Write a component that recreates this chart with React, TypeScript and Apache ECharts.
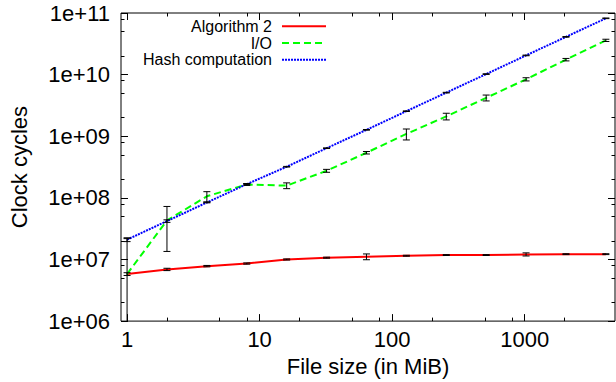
import React, { useEffect, useRef } from "react";
import * as echarts from "echarts";

const fileSizes = [1, 2, 4, 8, 16, 32, 64, 128, 256, 512, 1024, 2048, 4096];
const algoValues = [5.8e6, 6.9e6, 7.8e6, 8.6e6, 1.0e7, 1.07e7, 1.11e7, 1.15e7, 1.18e7, 1.18e7, 1.21e7, 1.22e7, 1.22e7];
const algoErrors = [3e5, 3e5, 2e5, 2e5, 2e5, 2e5, 1.2e6, 2e5, 2e5, 2e5, 7e5, 2e5, 2e5];
const ioValues = [5.8e6, 4.3e7, 1.06e8, 1.65e8, 1.58e8, 2.75e8, 5.4e8, 1.09e9, 2.1e9, 4.2e9, 8.4e9, 1.75e10, 3.6e10];
const ioErrors = [1.6e7, 2.95e7, 2e7, 6e6, 1.7e7, 1.5e7, 2.5e7, 2.2e8, 2.6e8, 4.6e8, 5e8, 8e8, 1.5e9];
const hashValues = [2.1e7, 4.2e7, 8.4e7, 1.67e8, 3.2e8, 6.4e8, 1.27e9, 2.55e9, 5.1e9, 1.02e10, 2.05e10, 4.1e10, 8.2e10];
const hashErrors = [1.5e6, 2e6, 1e6, 3e6, 4e6, 8e6, 1.5e7, 3e7, 6e7, 1.2e8, 2.5e8, 5e8, 1e9];

const seriesNames = ["Algorithm 2", "I/O", "Hash computation"];
const xMajorTicks = [1, 10, 100, 1000];
const xMinorTicks = [2, 5, 8, 20, 50, 80, 200, 500, 800, 2000];
const yMajorTicks = [1e6, 1e7, 1e8, 1e9, 1e10, 1e11];
const yMinorTicks = [2e6, 5e6, 8e6, 2e7, 5e7, 8e7, 2e8, 5e8, 8e8, 2e9, 5e9, 8e9, 2e10, 5e10, 8e10];

const X_MIN = 0.9;
const X_MAX = 4800;
const Y_MIN = 1e6;
const Y_MAX = 1e11;
const FONT = "Liberation Sans";

function xAxisDef(position: string, ticks: number[], len: number, label: boolean, name?: string) {
  return {
    type: "log",
    logBase: 10,
    min: X_MIN,
    max: X_MAX,
    position,
    name: name || "",
    nameLocation: "middle",
    nameGap: 32,
    nameTextStyle: { fontFamily: FONT, fontSize: 22, color: "#000" },
    axisLine: { show: false },
    axisTick: { show: true, inside: true, length: len, customValues: ticks, lineStyle: { color: "#000", width: 1 } },
    axisLabel: {
      show: label,
      customValues: ticks,
      margin: 7,
      fontFamily: FONT,
      fontSize: 22,
      color: "#000",
      formatter: (v: number) => String(Math.round(v)),
    },
    splitLine: { show: false },
    minorTick: { show: false },
  };
}

function yAxisDef(position: string, ticks: number[], len: number, label: boolean, name?: string) {
  return {
    type: "log",
    logBase: 10,
    min: Y_MIN,
    max: Y_MAX,
    position,
    name: name || "",
    nameLocation: "middle",
    nameGap: 91,
    nameTextStyle: { fontFamily: FONT, fontSize: 22, color: "#000" },
    axisLine: { show: false },
    axisTick: { show: true, inside: true, length: len, customValues: ticks, lineStyle: { color: "#000", width: 1 } },
    axisLabel: {
      show: label,
      customValues: ticks,
      margin: 11,
      fontFamily: FONT,
      fontSize: 22,
      color: "#000",
      formatter: (v: number) => "1e+" + String(Math.round(Math.log10(v))).padStart(2, "0"),
    },
    splitLine: { show: false },
    minorTick: { show: false },
  };
}

function errorSeries(values: number[], errors: number[]) {
  return {
    type: "custom",
    xAxisIndex: 0,
    yAxisIndex: 0,
    silent: true,
    z: 5,
    clip: true,
    encode: { x: 0, y: [1, 2] },
    data: fileSizes.map((x, i) => {
      const low = values[i] - errors[i];
      return [x, low > Y_MIN ? low : Y_MIN, values[i] + errors[i], low > Y_MIN ? 1 : 0];
    }),
    renderItem: (_params: any, api: any) => {
      const x = api.value(0);
      const lo = api.coord([x, api.value(1)]);
      const hi = api.coord([x, api.value(2)]);
      const hasLowCap = api.value(3) === 1;
      const hw = 3.5;
      const style = { stroke: "#000", lineWidth: 1 };
      const children: any[] = [
        { type: "line", shape: { x1: lo[0], y1: lo[1], x2: hi[0], y2: hi[1] }, style },
        { type: "line", shape: { x1: hi[0] - hw, y1: hi[1], x2: hi[0] + hw, y2: hi[1] }, style },
      ];
      if (hasLowCap) {
        children.push({ type: "line", shape: { x1: lo[0] - hw, y1: lo[1], x2: lo[0] + hw, y2: lo[1] }, style });
      }
      return { type: "group", children };
    },
  };
}

function lineSeries(name: string, values: number[], color: string, type: any) {
  return {
    type: "line",
    name,
    xAxisIndex: 0,
    yAxisIndex: 0,
    symbol: "none",
    z: 3,
    data: fileSizes.map((x, i) => [x, values[i]]),
    lineStyle: { color, width: 2, type },
    itemStyle: { color },
  };
}

export default function App() {
  const ref = useRef<HTMLDivElement>(null);
  useEffect(() => {
    if (!ref.current) return;
    const chart = echarts.init(ref.current, undefined, { renderer: "svg" });
    chart.setOption({
      animation: false,
      backgroundColor: "#fff",
      grid: { left: 121, right: 1, top: 13, bottom: 58, show: true, borderColor: "#000", borderWidth: 1, backgroundColor: "transparent" },
      legend: {
        orient: "vertical",
        align: "right",
        right: 289,
        top: 18,
        padding: 0,
        itemWidth: 44,
        itemHeight: 14,
        itemGap: 0,
        data: seriesNames,
        itemStyle: { opacity: 0 },
        textStyle: { fontFamily: FONT, fontSize: 16, color: "#000", lineHeight: 16.7, padding: [0, 5, 0, 0] },
      },
      xAxis: [
        xAxisDef("bottom", xMajorTicks, 7, true, "File size (in MiB)"),
        xAxisDef("bottom", xMinorTicks, 3.5, false),
        xAxisDef("top", xMajorTicks, 7, false),
        xAxisDef("top", xMinorTicks, 3.5, false),
      ],
      yAxis: [
        yAxisDef("left", yMajorTicks, 7, true, "Clock cycles"),
        yAxisDef("left", yMinorTicks, 3.5, false),
        yAxisDef("right", yMajorTicks, 7, false),
        yAxisDef("right", yMinorTicks, 3.5, false),
      ],
      series: [
        lineSeries(seriesNames[0], algoValues, "#ff0000", "solid"),
        lineSeries(seriesNames[1], ioValues, "#00ff00", [7, 4]),
        lineSeries(seriesNames[2], hashValues, "#0000ff", [2, 1]),
        errorSeries(algoValues, algoErrors),
        errorSeries(ioValues, ioErrors),
        errorSeries(hashValues, hashErrors),
      ],
    });
    return () => chart.dispose();
  }, []);
  return <div ref={ref} style={{ position: "fixed", left: 0, top: 0, width: 616, height: 382 }} />;
}
